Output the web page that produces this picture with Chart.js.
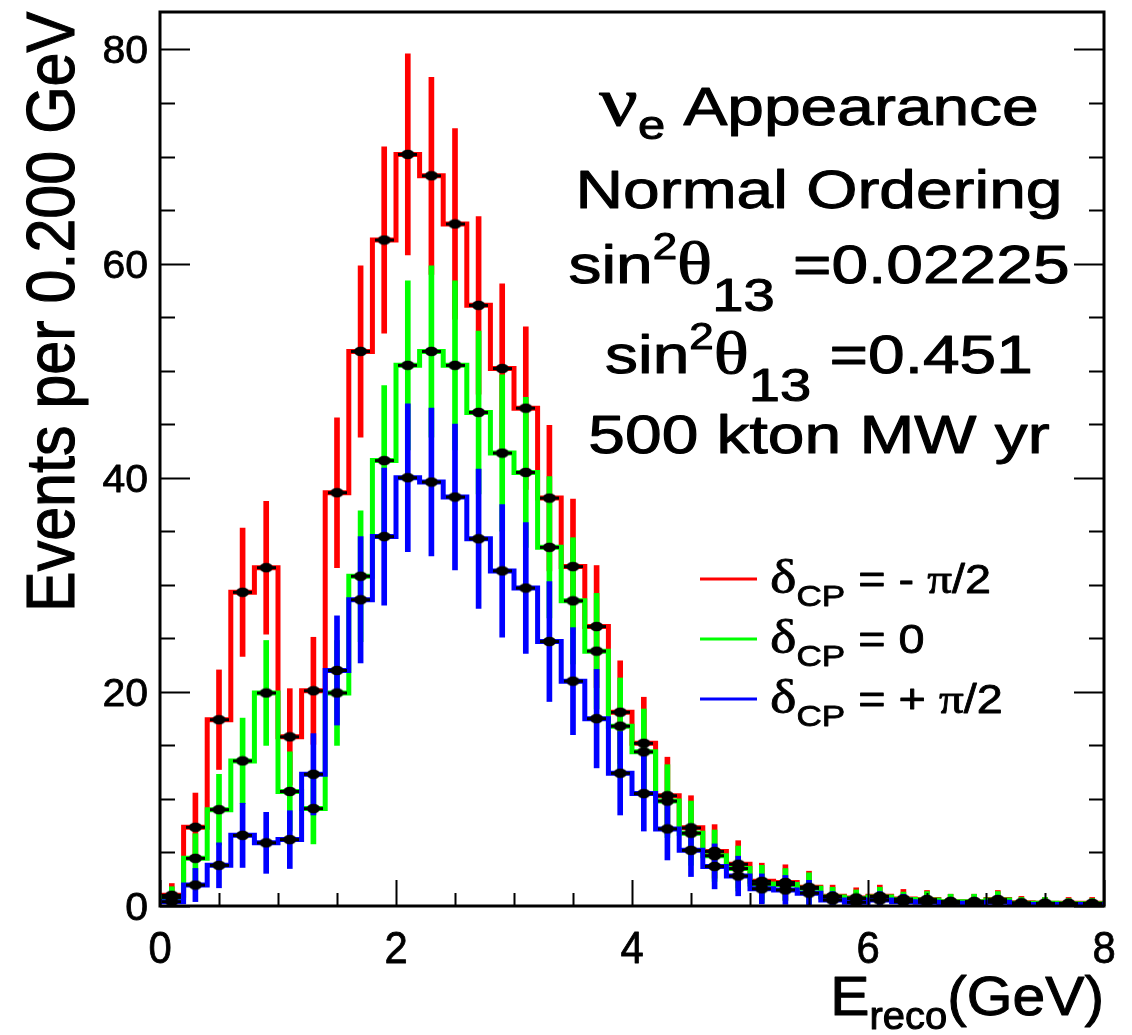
<!DOCTYPE html>
<html>
<head>
<meta charset="utf-8">
<title>nu_e appearance spectrum</title>
<script src="https://cdn.jsdelivr.net/npm/chart.js@4.4.0/dist/chart.umd.min.js"></script>
<style>
  html, body { margin: 0; padding: 0; background: #fff; }
  #wrap { width: 1132px; height: 1035px; position: relative; }
</style>
</head>
<body>
<div id="wrap"><canvas id="c" width="1132" height="1035"></canvas></div>
<script>
// Reconstructed energy bins (GeV), 0.2 GeV wide
const binWidth = 0.2;
const binCenters = [0.1, 0.3, 0.5, 0.7, 0.9, 1.1, 1.3, 1.5, 1.7, 1.9,
                    2.1, 2.3, 2.5, 2.7, 2.9, 3.1, 3.3, 3.5, 3.7, 3.9,
                    4.1, 4.3, 4.5, 4.7, 4.9, 5.1, 5.3, 5.5, 5.7, 5.9,
                    6.1, 6.3, 6.5, 6.7, 6.9, 7.1, 7.3, 7.5, 7.7, 7.9];

// delta_CP = -pi/2
const eventsMinusHalfPi = [1.0, 7.35, 17.4, 29.3, 31.6, 15.8, 20.1, 38.6, 51.8, 62.2,
                           70.2, 68.2, 63.7, 56.1, 50.2, 46.5, 38.1, 31.7, 26.1, 18.1,
                           15.2, 10.3, 7.3, 5.1, 3.9, 2.3, 2.2, 1.75, 0.9, 0.75,
                           0.9, 0.65, 0.6, 0.4, 0.4, 0.6, 0.3, 0.25, 0.25, 0.25];
const errMinusHalfPi = [1.1, 3.2, 4.65, 6.0, 6.2, 4.5, 5.0, 7.0, 8.0, 8.7,
                        9.4, 9.2, 8.9, 8.3, 7.9, 7.6, 6.8, 6.3, 5.7, 4.8,
                        4.3, 3.6, 3.0, 2.5, 2.2, 1.7, 1.65, 1.5, 1.05, 0.95,
                        1.05, 0.9, 0.85, 0.7, 0.7, 0.85, 0.6, 0.55, 0.55, 0.55];

// delta_CP = 0
const eventsZero = [0.8, 4.45, 9.0, 13.55, 19.9, 10.7, 9.1, 19.9, 30.8, 41.6,
                    50.5, 51.8, 50.5, 46.1, 42.3, 40.5, 33.5, 28.5, 23.8, 16.8,
                    14.4, 9.8, 6.8, 4.7, 3.5, 2.05, 2.0, 1.65, 0.85, 0.7,
                    0.85, 0.6, 0.55, 0.4, 0.4, 0.55, 0.25, 0.25, 0.2, 0.2];
const errZero = [1.0, 2.3, 3.3, 4.0, 4.9, 3.7, 3.3, 4.9, 6.1, 7.0,
                 7.9, 8.0, 7.9, 7.6, 7.3, 7.0, 6.6, 5.9, 5.4, 4.5,
                 4.0, 3.4, 3.0, 2.4, 2.1, 1.75, 1.5, 1.45, 0.9, 0.8,
                 0.9, 0.7, 0.8, 0.7, 0.7, 0.8, 0.55, 0.55, 0.5, 0.5];

// delta_CP = +pi/2
const eventsPlusHalfPi = [0.4, 1.96, 3.8, 6.6, 5.9, 6.2, 12.3, 22.0, 28.6, 34.5,
                          40.0, 39.6, 38.2, 34.3, 31.3, 29.7, 24.7, 21.0, 17.5, 12.4,
                          10.5, 7.2, 5.2, 3.7, 2.8, 1.6, 1.5, 1.2, 0.55, 0.35,
                          0.55, 0.4, 0.35, 0.25, 0.25, 0.35, 0.15, 0.15, 0.15, 0.15];
const errPlusHalfPi = [0.7, 1.55, 2.1, 3.0, 2.85, 2.7, 3.8, 5.1, 5.9, 6.4,
                       6.9, 6.9, 6.8, 6.5, 6.2, 6.1, 5.6, 5.0, 4.6, 3.9,
                       3.5, 2.9, 2.45, 2.1, 1.85, 1.4, 1.35, 1.2, 0.8, 0.65,
                       0.8, 0.7, 0.65, 0.55, 0.55, 0.65, 0.45, 0.45, 0.45, 0.45];

const seriesColors = ['#ff0000', '#00ff00', '#0000ff'];

// Axis ranges and labelled ticks
const xRange = [0, 8];
const yRange = [0, 83.5];
const xTickValues = [0, 2, 4, 6, 8];
const xTickLabels = ['0', '2', '4', '6', '8'];
const yTickValues = [0, 20, 40, 60, 80];
const yTickLabels = ['0', '20', '40', '60', '80'];

const SANS = '"Liberation Sans", Arial, Helvetica, sans-serif';
const SERIF = '"Liberation Serif", "DejaVu Serif", "Times New Roman", serif';

// Legend entries as rich-text pieces (delta with CP subscript)
const legendEntries = [
  [{t: 'δ', size: 48, family: SERIF}, {t: 'CP', size: 30, family: SANS, dy: 13},
   {t: ' = - ', size: 40, family: SANS}, {t: 'π', size: 42, family: SERIF}, {t: '/2', size: 40, family: SANS}],
  [{t: 'δ', size: 48, family: SERIF}, {t: 'CP', size: 30, family: SANS, dy: 13},
   {t: ' = 0', size: 40, family: SANS}],
  [{t: 'δ', size: 48, family: SERIF}, {t: 'CP', size: 30, family: SANS, dy: 13},
   {t: ' = + ', size: 40, family: SANS}, {t: 'π', size: 42, family: SERIF}, {t: '/2', size: 40, family: SANS}]
];

// Annotation block
const infoLines = [
  [{t: 'ν', size: 70, family: SERIF}, {t: 'e', size: 40, family: SANS, dy: 14},
   {t: ' Appearance', size: 54, family: SANS}],
  [{t: 'Normal Ordering', size: 54, family: SANS}],
  [{t: 'sin', size: 54, family: SANS}, {t: '2', size: 36, family: SANS, dy: -24},
   {t: 'θ', size: 60, family: SERIF}, {t: '13', size: 46, family: SANS, dy: 28},
   {t: ' =0.02225', size: 54, family: SANS}],
  [{t: 'sin', size: 54, family: SANS}, {t: '2', size: 36, family: SANS, dy: -24},
   {t: 'θ', size: 60, family: SERIF}, {t: '13', size: 46, family: SANS, dy: 28},
   {t: ' =0.451', size: 54, family: SANS}],
  [{t: '500 kton MW yr', size: 54, family: SANS}]
];
const infoBaselines = [125, 208, 283, 373, 453];

// ---------- dataset builders ----------
function stepPoints(values) {
  const pts = values.map((v, i) => ({x: binCenters[i] - binWidth / 2, y: v}));
  const last = values.length - 1;
  pts.push({x: binCenters[last] + binWidth / 2, y: values[last]});
  return pts;
}
function errorRanges(values, errs) {
  return values.map((v, i) => ({x: binCenters[i], y: [Math.max(0, v - errs[i]), v + errs[i]]}));
}
function centerPoints(values) {
  return values.map((v, i) => ({x: binCenters[i], y: v}));
}

// black data marker: filled dot with a short horizontal bar
const marker = document.createElement('canvas');
marker.width = 19; marker.height = 11;
(function () {
  const m = marker.getContext('2d');
  m.fillStyle = '#000';
  m.beginPath();
  m.ellipse(9.5, 5.5, 6.5, 4.8, 0, 0, Math.PI * 2);
  m.fill();
  m.fillRect(0, 4, 19, 3);
})();

const seriesValues = [eventsMinusHalfPi, eventsZero, eventsPlusHalfPi];
const seriesErrors = [errMinusHalfPi, errZero, errPlusHalfPi];

const datasets = [];
seriesValues.forEach((vals, s) => {
  const base = 100 - s * 10;
  datasets.push({
    type: 'line', data: stepPoints(vals), stepped: 'before',
    borderColor: seriesColors[s], borderWidth: 5, pointRadius: 0, fill: false,
    order: base
  });
  datasets.push({
    type: 'bar', data: errorRanges(vals, seriesErrors[s]),
    backgroundColor: seriesColors[s], borderWidth: 0, barThickness: 5, grouped: false,
    order: base - 1
  });
});
seriesValues.forEach((vals, s) => {
  datasets.push({
    type: 'line', data: centerPoints(vals), showLine: false,
    pointStyle: marker, pointRadius: 5, order: 10 - s
  });
});

// ---------- text helper ----------
// Draws a run of text pieces (with sub/superscripts) horizontally scaled by sx;
// a thin outline gives the heavier stroke weight of the plot's lettering.
function richText(ctx, parts, x, baseline, sx, align, weight) {
  let total = 0;
  const widths = parts.map(p => {
    ctx.font = p.size + 'px ' + p.family;
    const w = ctx.measureText(p.t).width;
    total += w;
    return w;
  });
  let start = x;
  if (align === 'center') start = x - total * sx / 2;
  else if (align === 'right') start = x - total * sx;
  ctx.save();
  ctx.translate(start, baseline);
  ctx.scale(sx, 1);
  ctx.textBaseline = 'alphabetic';
  ctx.textAlign = 'left';
  ctx.lineJoin = 'round';
  ctx.lineWidth = weight === undefined ? 1 : weight;
  let cx = 0;
  parts.forEach((p, i) => {
    ctx.font = p.size + 'px ' + p.family;
    ctx.fillText(p.t, cx, p.dy || 0);
    if (ctx.lineWidth > 0) ctx.strokeText(p.t, cx, p.dy || 0);
    cx += widths[i];
  });
  ctx.restore();
}

// Frame, inward ticks, labels, titles, legend and annotation
const frameAndText = {
  id: 'frameAndText',
  afterDraw(chart) {
    const {ctx, chartArea: a, scales: {x, y}} = chart;
    ctx.save();
    ctx.fillStyle = '#000';
    ctx.strokeStyle = '#000';

    // ticks
    ctx.lineWidth = 2;
    ctx.beginPath();
    for (let v = 0; v <= y.max + 1e-9; v += 5) {
      const py = Math.round(y.getPixelForValue(v)) + 0.5;
      const len = v % 20 === 0 ? 30 : 15;
      ctx.moveTo(a.left, py); ctx.lineTo(a.left + len, py);
      ctx.moveTo(a.right, py); ctx.lineTo(a.right - len, py);
    }
    for (let v = x.min; v <= x.max + 1e-9; v += 0.5) {
      const px = Math.round(x.getPixelForValue(v)) + 0.5;
      const len = v % 2 === 0 ? 26 : 13;
      ctx.moveTo(px, a.bottom); ctx.lineTo(px, a.bottom - len);
    }
    ctx.stroke();

    // frame
    ctx.lineWidth = 3;
    ctx.strokeRect(a.left, a.top, a.right - a.left, a.bottom - a.top);

    // tick labels
    yTickValues.forEach((v, i) => {
      const py = y.getPixelForValue(v);
      richText(ctx, [{t: yTickLabels[i], size: 39, family: SANS}], a.left - 12, py + 14, 1.05, 'right', 0.8);
    });
    xTickValues.forEach((v, i) => {
      const px = x.getPixelForValue(v);
      richText(ctx, [{t: xTickLabels[i], size: 44, family: SANS}], px, a.bottom + 57, 0.95, 'center', 0.8);
    });

    // axis titles
    ctx.save();
    ctx.translate(74, 612);
    ctx.rotate(-Math.PI / 2);
    ctx.scale(1, 1.12);
    ctx.font = '61px ' + SANS;
    ctx.textBaseline = 'alphabetic';
    ctx.lineWidth = 1;
    ctx.fillText('Events per 0.200 GeV', 0, 0);
    ctx.strokeText('Events per 0.200 GeV', 0, 0);
    ctx.restore();

    richText(ctx, [{t: 'E', size: 56, family: SANS}, {t: 'reco', size: 38, family: SANS, dy: 14},
                   {t: '(GeV)', size: 56, family: SANS}], a.right, 1015, 1.05, 'right');

    // annotation
    infoLines.forEach((parts, i) => richText(ctx, parts, 819, infoBaselines[i], 1.22, 'center'));

    // legend
    legendEntries.forEach((parts, i) => {
      const base = 593 + i * 60;
      ctx.save();
      ctx.strokeStyle = seriesColors[i];
      ctx.lineWidth = 3;
      ctx.beginPath();
      ctx.moveTo(700, base - 14); ctx.lineTo(757, base - 14);
      ctx.stroke();
      ctx.restore();
      richText(ctx, parts, 770, base, 1.17, 'left', 0.8);
    });
    ctx.restore();
  }
};

new Chart(document.getElementById('c'), {
  type: 'line',
  data: {datasets},
  options: {
    responsive: false,
    animation: false,
    events: [],
    layout: {padding: {left: 160, right: 28, top: 12, bottom: 129}},
    plugins: {legend: {display: false}, tooltip: {enabled: false}},
    scales: {
      x: {type: 'linear', display: false, min: xRange[0], max: xRange[1], offset: false},
      y: {type: 'linear', display: false, min: yRange[0], max: yRange[1]}
    }
  },
  plugins: [frameAndText]
});
</script>
</body>
</html>
